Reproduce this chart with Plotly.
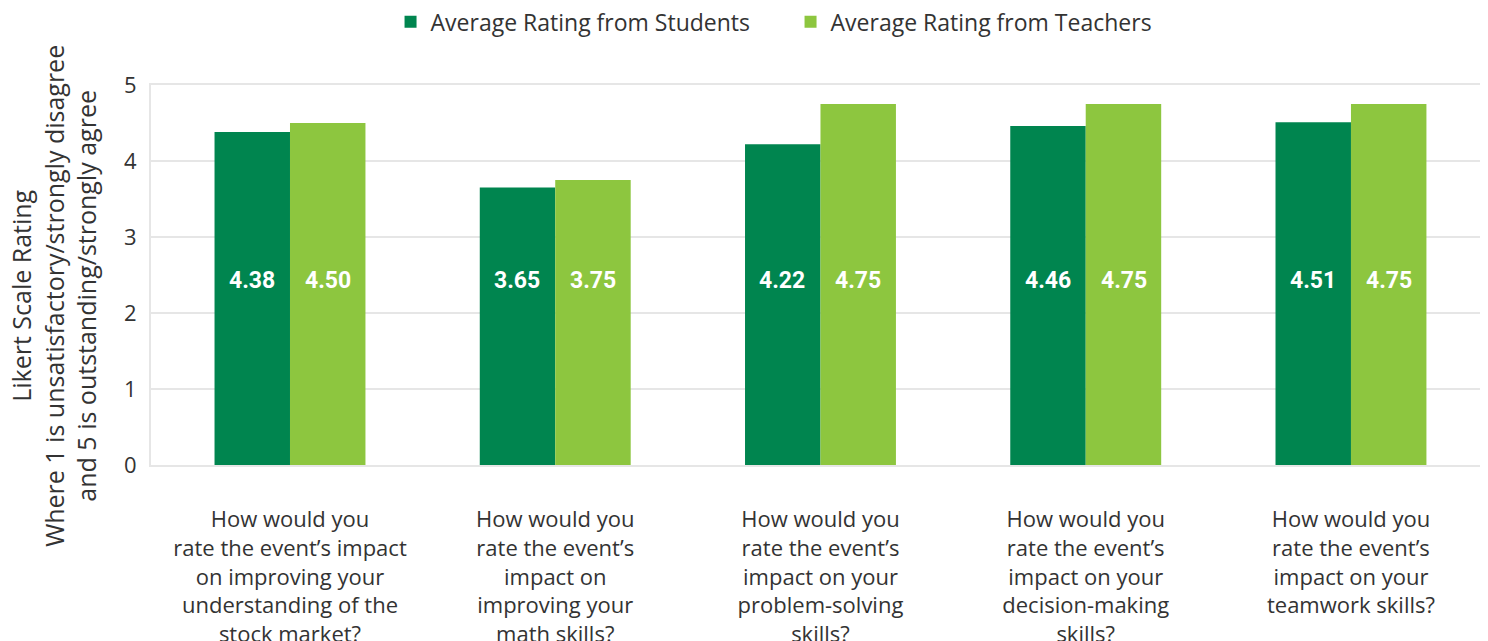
import plotly.graph_objects as go

categories = [
    "How would you<br>rate the event’s impact<br>on improving your<br>understanding of the<br>stock market?",
    "How would you<br>rate the event’s<br>impact on<br>improving your<br>math skills?",
    "How would you<br>rate the event’s<br>impact on your<br>problem-solving<br>skills?",
    "How would you<br>rate the event’s<br>impact on your<br>decision-making<br>skills?",
    "How would you<br>rate the event’s<br>impact on your<br>teamwork skills?",
]
students = [4.38, 3.65, 4.22, 4.46, 4.51]
teachers = [4.50, 3.75, 4.75, 4.75, 4.75]
label_y = 2.43
y_title = "Likert Scale Rating<br>Where 1 is unsatisfactory/strongly disagree<br>and 5 is outstanding/strongly agree"

c_students = "#00854F"
c_teachers = "#8DC63F"
txt = "#333333"
grid = "#e6e6e6"
fam = "Open Sans"

fig = go.Figure()
fig.add_trace(go.Bar(x=categories, y=students, name="Average Rating from Students",
                     marker=dict(color=c_students, line=dict(width=0))))
fig.add_trace(go.Bar(x=categories, y=teachers, name="Average Rating from Teachers",
                     marker=dict(color=c_teachers, line=dict(width=0))))

for c, s, t in zip(categories, students, teachers):
    for v, shift in ((s, -38), (t, 38)):
        fig.add_annotation(x=c, y=label_y, text=f"<b>{v:.2f}</b>", showarrow=False,
                           xshift=shift, font=dict(family="Roboto", size=23, color="white"))

fig.add_annotation(xref="paper", yref="paper", x=-0.0729, y=0.445, text=y_title,
                   textangle=-90, showarrow=False, xanchor="center", yanchor="middle",
                   font=dict(family=fam, size=25, color=txt))

fig.update_layout(
    width=1488, height=641,
    margin=dict(l=143, r=14, t=77, b=184, autoexpand=False),
    paper_bgcolor="white", plot_bgcolor="white",
    barmode="group", bargap=0.431, bargroupgap=0,
    font=dict(family=fam, size=21, color=txt),
    legend=dict(orientation="h", x=0.4805, xanchor="center", y=1.166, yanchor="middle",
                font=dict(family=fam, size=23, color=txt), entrywidth=355,
                traceorder="normal", itemwidth=30),
    showlegend=True,
)
fig.update_yaxes(range=[0, 5], dtick=1, showgrid=True, gridcolor=grid, gridwidth=2,
                 showline=True, linecolor=grid, linewidth=2, mirror=True, zeroline=False,
                 tickfont=dict(family=fam, size=22, color=txt), ticks="", ticklabelstandoff=8)
fig.update_xaxes(range=[-0.524, 4.494], showline=True, linecolor=grid, linewidth=2, mirror=True,
                 showgrid=False, ticks="outside", ticklen=34, tickcolor="rgba(0,0,0,0)",
                 tickfont=dict(family=fam, size=22, color=txt), tickangle=0)

fig.write_html("out.html")
